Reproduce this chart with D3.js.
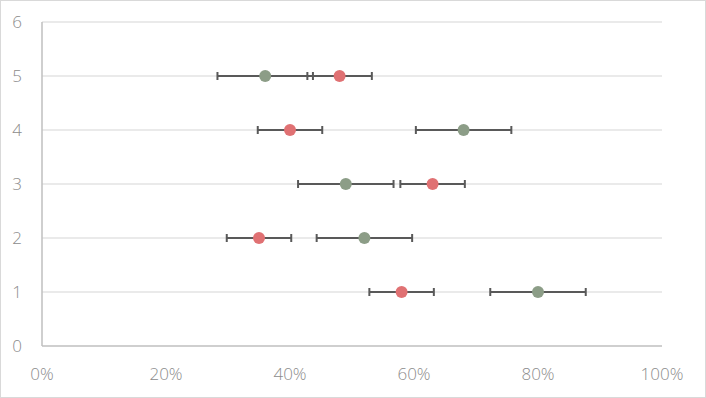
<!DOCTYPE html>
<html lang="en">
<head>
    <meta charset="UTF-8">
    <title>Dot plot with error bars</title>
    <script src="https://d3js.org/d3.v7.min.js"></script>
    <style>
        html, body {
            margin: 0;
            background: #fff;
        }
        svg {
            display: block;
            font-family: 'Open Sans', 'Lato', sans-serif;
            font-weight: 300;
        }
        .tick-label {
            font-size: 17px;
            fill: #8c8c8c;
        }
    </style>
</head>
<body>
    <svg></svg>
    <script>
        const width = 706;
        const height = 398;

        // Data (x in %, y = row)
        const rows = [1, 2, 3, 4, 5];
        const greenValues = [80, 52, 49, 68, 36];
        const greenErrors = [7.7, 7.7, 7.7, 7.7, 7.7];
        const redValues = [58, 35, 63, 40, 48];
        const redErrors = [5.2, 5.2, 5.2, 5.2, 5.2];
        const xTicks = [0, 20, 40, 60, 80, 100];
        const yTicks = [0, 1, 2, 3, 4, 5, 6];

        const series = [
            { name: "green", color: "#8c9d87", values: greenValues, errors: greenErrors },
            { name: "red", color: "#e07173", values: redValues, errors: redErrors }
        ];

        const svg = d3.select("svg").attr("width", width).attr("height", height);

        // outer frame
        svg.append("rect")
            .attr("x", 0.5).attr("y", 0.5)
            .attr("width", width - 1).attr("height", height - 1)
            .attr("fill", "none")
            .attr("stroke", "#d9d9d9");

        const x = d3.scaleLinear().domain([0, 100]).range([42, 662]);
        const y = d3.scaleLinear().domain([0, 6]).range([346, 22]);

        // horizontal gridlines
        svg.append("g")
            .selectAll("line")
            .data(yTicks.filter(d => d > 0))
            .enter().append("line")
            .attr("x1", x(0)).attr("x2", x(100))
            .attr("y1", d => y(d)).attr("y2", d => y(d))
            .attr("stroke", "#d6d6d6")
            .attr("stroke-width", 1.2);

        // axis lines
        svg.append("line")
            .attr("x1", x(0)).attr("x2", x(0))
            .attr("y1", y(0)).attr("y2", y(6))
            .attr("stroke", "#bfbfbf").attr("stroke-width", 1.5);
        svg.append("line")
            .attr("x1", x(0)).attr("x2", x(100))
            .attr("y1", y(0)).attr("y2", y(0))
            .attr("stroke", "#bfbfbf").attr("stroke-width", 1.5);

        // tick labels
        svg.append("g")
            .selectAll("text")
            .data(yTicks)
            .enter().append("text")
            .attr("class", "tick-label")
            .attr("x", 17)
            .attr("y", d => y(d))
            .attr("dy", "0.35em")
            .attr("text-anchor", "middle")
            .text(d => d);

        svg.append("g")
            .selectAll("text")
            .data(xTicks)
            .enter().append("text")
            .attr("class", "tick-label")
            .attr("x", d => x(d))
            .attr("y", 380)
            .attr("text-anchor", "middle")
            .text(d => d + "%");

        // error bars
        const capHalf = 4;
        series.forEach(s => {
            const g = svg.append("g").attr("stroke", "#595959").attr("stroke-width", 2);
            rows.forEach((r, i) => {
                const lo = x(s.values[i] - s.errors[i]);
                const hi = x(s.values[i] + s.errors[i]);
                const cy = y(r);
                g.append("line").attr("x1", lo).attr("x2", hi).attr("y1", cy).attr("y2", cy);
                g.append("line").attr("x1", lo).attr("x2", lo).attr("y1", cy - capHalf).attr("y2", cy + capHalf);
                g.append("line").attr("x1", hi).attr("x2", hi).attr("y1", cy - capHalf).attr("y2", cy + capHalf);
            });
        });

        // markers
        series.forEach(s => {
            svg.append("g")
                .selectAll("circle")
                .data(rows)
                .enter().append("circle")
                .attr("cx", (d, i) => x(s.values[i]))
                .attr("cy", d => y(d))
                .attr("r", 6)
                .attr("fill", s.color);
        });
    </script>
</body>
</html>
